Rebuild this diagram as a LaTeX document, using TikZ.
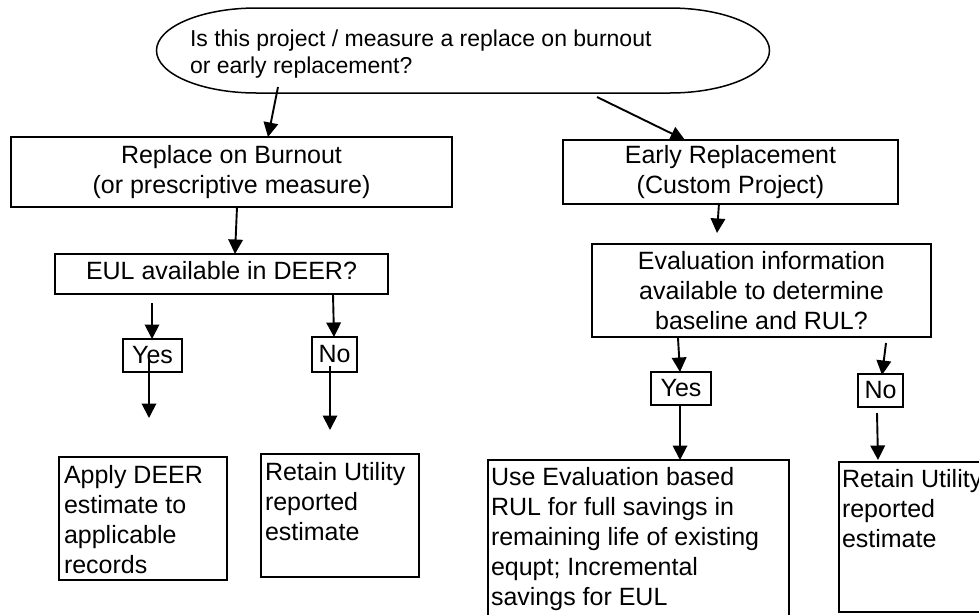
\documentclass[tikz,border=0pt]{standalone}
\usepackage{fontspec}
\setmainfont{Liberation Sans}
\usetikzlibrary{arrows.meta}
\begin{document}
\begin{tikzpicture}[x=1pt,y=-1pt,
  box/.style={draw, line width=1.7pt, rectangle, inner sep=0pt, outer sep=0pt,
    anchor=north west, font=\fontsize{25}{30}\selectfont, align=center},
  txt/.style={inner sep=0pt, outer sep=0pt, anchor=north west, align=left,
    font=\fontsize{25}{30}\selectfont},
  arr/.style={line width=1.9pt, -{Triangle[length=14.5pt,width=14.5pt]}}]
\useasboundingbox (0,0) rectangle (979,614);
\clip (0,0) rectangle (979,614);
\fill[white] (0,0) rectangle (979,614);

% question oval (flat top and bottom, elliptical ends)
\node[inner sep=0pt, outer sep=0pt, minimum width=613pt, minimum height=85pt] (E) at (463,50.5) {};
\draw[line width=1.5pt]
  ([xshift=100pt]E.north west) -- ([xshift=-100pt]E.north east)
  arc[start angle=90, end angle=-90, x radius=100pt, y radius=42.5pt]
  -- ([xshift=100pt]E.south west)
  arc[start angle=270, end angle=90, x radius=100pt, y radius=42.5pt] -- cycle;
\node[txt, font=\fontsize{23}{27}\selectfont] (Et) at (190,30.3)
  {Is this project / measure a replace on burnout\\or early replacement?};

% left branch
\node[box, minimum width=441pt, minimum height=70pt] (rob) at (11,137)
  {Replace on Burnout\\(or prescriptive measure)};
\node[box, minimum width=333pt, minimum height=40pt, text height=18pt, text depth=8pt] (eul) at (55,254)
  {EUL available in DEER?};
\node[box, minimum width=59pt, minimum height=33pt] (yesl) at (123,339) {Yes};
\node[box, minimum width=45pt, minimum height=35pt] (nol) at (312,337) {No};
\node[box, minimum width=168pt, minimum height=123pt] (app) at (59,457) {};
\node[txt] (appt) at (64,465) {Apply DEER\\estimate to\\applicable\\records};
\node[box, minimum width=158pt, minimum height=123pt] (retl) at (261,454) {};
\node[txt] (retlt) at (265,462) {Retain Utility\\reported\\estimate};

% right branch
\node[box, minimum width=335pt, minimum height=64pt] (er) at (563,140)
  {Early Replacement\\(Custom Project)};
\node[box, minimum width=339pt, minimum height=93pt] (ev) at (592,244)
  {Evaluation information\\available to determine\\baseline and RUL?};
\node[box, minimum width=60pt, minimum height=33pt] (yesr) at (651,372) {Yes};
\node[box, minimum width=45pt, minimum height=33pt] (nor) at (858,374) {No};
\node[box, minimum width=301pt, minimum height=175pt] (use) at (488,460) {};
\node[txt] (uset) at (491,467)
  {Use Evaluation based\\RUL for full savings in\\remaining life of existing\\equpt; Incremental\\savings for EUL};
\node[box, minimum width=160pt, minimum height=150pt] (retr) at (839,462) {};
\node[txt] (retrt) at (842,469) {Retain Utility\\reported\\estimate};

% connectors
\draw[arr] ([shift={(-185,36.5)}]E.center) -- ([shift={(36.5,0)}]rob.north);
\draw[arr] ([shift={(134,46.5)}]E.center) -- ([shift={(-45.5,0)}]er.north);
\draw[arr] ([shift={(5.5,0)}]rob.south) -- ([shift={(13.5,0)}]eul.north);
\draw[arr] ([shift={(-69.5,9)}]eul.south) -- ([shift={(-0.5,0)}]yesl.north);
\draw[arr] ([shift={(-3.5,2.5)}]yesl.center) -- ([shift={(6,-39)}]app.north);
\draw[arr] ([shift={(111.5,0)}]eul.south) -- ([shift={(-0.5,0)}]nol.north);
\draw[arr] ([shift={(-4.5,11.5)}]nol.center) -- ([shift={(-10,-24)}]retl.north);
\draw[arr] ([shift={(-11.5,-1)}]er.south) -- ([shift={(-44.5,-11)}]ev.north);
\draw[arr] ([shift={(-83.5,1)}]ev.south) -- ([shift={(-1,0)}]yesr.north);
\draw[arr] ([shift={(-1,0)}]yesr.south) -- ([shift={(41.5,0)}]use.north);
\draw[arr] ([shift={(124.5,6)}]ev.south) -- ([shift={(1.5,1)}]nor.north);
\draw[arr] ([shift={(-3.5,6)}]nor.south) -- ([shift={(-41,-2)}]retr.north);
\end{tikzpicture}
\end{document}
